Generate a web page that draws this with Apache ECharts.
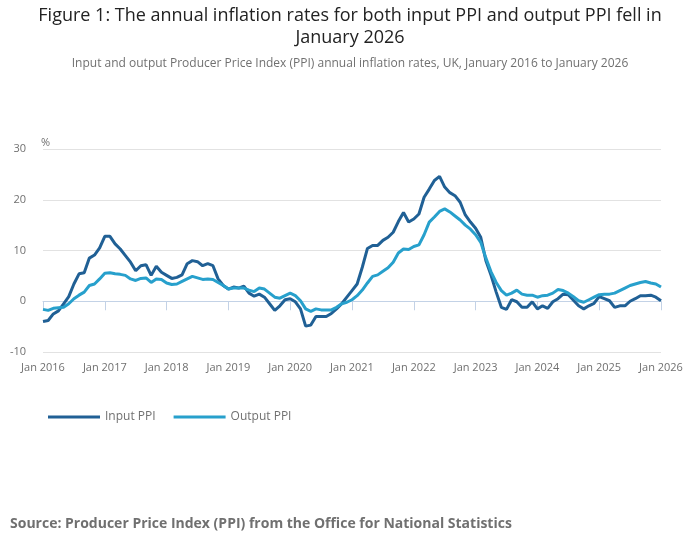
<!DOCTYPE html>
<html>
<head>
<meta charset="utf-8">
<script src="https://cdn.jsdelivr.net/npm/echarts@6/dist/echarts.min.js"></script>
<style>
  html, body { margin: 0; padding: 0; background: #fff; }
  #chart { width: 700px; height: 549px; }
</style>
</head>
<body>
<div id="chart"></div>
<script>
// PPI annual rates, Jan 2016 .. Jan 2026 (monthly)
var years = [2016, 2017, 2018, 2019, 2020, 2021, 2022, 2023, 2024, 2025, 2026];
var monthNames = ['Jan', 'Feb', 'Mar', 'Apr', 'May', 'Jun', 'Jul', 'Aug', 'Sep', 'Oct', 'Nov', 'Dec'];

var inputPPI = [
    -4.0, -3.8, -2.5, -1.9, -0.5, 0.9, 3.4, 5.4, 5.6, 8.5, 9.1, 10.5,
    12.8, 12.8, 11.3, 10.3, 9.0, 7.7, 6.0, 7.0, 7.2, 5.1, 6.9, 5.7,
    5.1, 4.5, 4.7, 5.2, 7.4, 8.0, 7.8, 7.0, 7.4, 7.0, 4.4, 3.1,
    2.4, 2.8, 2.6, 3.0, 1.6, 1.0, 1.4, 0.8, -0.5, -1.8, -0.9, 0.3,
    0.5, -0.1, -1.5, -4.9, -4.7, -3.0, -3.0, -3.0, -2.4, -1.5, -0.5, 0.8,
    2.1, 3.4, 6.7, 10.4, 11.0, 11.0, 12.0, 12.6, 13.6, 15.7, 17.5, 15.6,
    16.2, 17.2, 20.5, 22.1, 23.8, 24.6, 22.5, 21.4, 20.8, 19.5, 17.0, 15.6,
    14.4, 12.6, 8.0, 5.1, 1.8, -1.2, -1.6, 0.3, -0.1, -1.2, -1.2, -0.1,
    -1.5, -0.9, -1.4, -0.1, 0.5, 1.4, 1.3, 0.2, -0.9, -1.5, -0.9, -0.4,
    0.9, 0.5, 0.1, -1.2, -0.9, -0.9, 0.0, 0.5, 1.1, 1.1, 1.2, 0.8,
    0.1
];

var outputPPI = [
    -1.6, -1.8, -1.4, -1.3, -1.2, -0.5, 0.5, 1.2, 1.8, 3.1, 3.4, 4.4,
    5.5, 5.6, 5.4, 5.3, 5.1, 4.4, 4.1, 4.5, 4.6, 3.7, 4.4, 4.3,
    3.6, 3.3, 3.4, 3.9, 4.4, 4.9, 4.6, 4.3, 4.4, 4.3, 3.7, 3.1,
    2.4, 2.6, 2.6, 2.6, 2.2, 1.9, 2.6, 2.4, 1.6, 0.8, 0.6, 1.1,
    1.6, 1.1, 0.1, -1.5, -2.0, -1.5, -1.7, -1.7, -1.7, -1.2, -0.5, -0.2,
    0.3, 1.1, 2.2, 3.6, 4.9, 5.2, 5.9, 6.6, 7.7, 9.5, 10.3, 10.2,
    10.8, 11.1, 13.1, 15.6, 16.6, 17.7, 18.2, 17.6, 16.8, 16.0, 15.0, 14.2,
    13.1, 11.6, 8.5, 5.8, 3.7, 2.1, 1.2, 1.6, 2.2, 1.4, 1.2, 1.2,
    0.8, 1.1, 1.2, 1.6, 2.3, 2.1, 1.6, 0.9, 0.1, -0.2, 0.3, 0.8,
    1.3, 1.4, 1.4, 1.6, 2.1, 2.6, 3.1, 3.4, 3.7, 3.9, 3.6, 3.4,
    2.8
];

var yTicks = { min: -10, max: 30, step: 10 };

// month labels "Jan 2016" .. "Jan 2026"
var months = [];
years.forEach(function (y) {
    monthNames.forEach(function (m) {
        if (months.length < inputPPI.length) months.push(m + ' ' + y);
    });
});

var font = "'Open Sans', 'Noto Sans', sans-serif";
var isJan = function (i) { return i % 12 === 0; };

var chart = echarts.init(document.getElementById('chart'));
var option = {
    backgroundColor: '#fff',
    animation: false,
    textStyle: { fontFamily: font },
    title: [{
        text: 'Figure 1: The annual inflation rates for both input PPI and output PPI fell in\nJanuary 2026',
        left: 'center',
        top: 0,
        textStyle: { fontFamily: font, fontSize: 18, fontWeight: 'normal', color: '#222', lineHeight: 22 }
    }, {
        text: 'Input and output Producer Price Index (PPI) annual inflation rates, UK, January 2016 to January 2026',
        left: 'center',
        top: 53,
        textStyle: { fontFamily: font, fontSize: 12, fontWeight: 'normal', color: '#707070' }
    }, {
        text: 'Source: Producer Price Index (PPI) from the Office for National Statistics',
        left: 5,
        top: 512,
        textStyle: { fontFamily: font, fontSize: 14, fontWeight: 'bold', color: '#707070' }
    }],
    legend: {
        left: 43,
        top: 406,
        icon: 'rect',
        itemWidth: 52,
        itemHeight: 3,
        itemGap: 18,
        textStyle: { fontFamily: font, fontSize: 12, color: '#707070' },
        data: ['Input PPI', 'Output PPI']
    },
    grid: { left: 43, right: 39, top: 149, bottom: 197 },
    xAxis: {
        type: 'category',
        data: months,
        boundaryGap: false,
        axisLine: { lineStyle: { color: '#c3d2e6', width: 1 } },
        axisTick: { interval: isJan, length: 9, lineStyle: { color: '#c3d2e6' } },
        axisLabel: { interval: isJan, margin: 10, fontSize: 11, color: '#707070', fontFamily: font },
        splitLine: { show: false }
    },
    yAxis: {
        type: 'value',
        min: yTicks.min,
        max: yTicks.max,
        interval: yTicks.step,
        name: '%',
        nameLocation: 'end',
        nameGap: 1,
        nameTextStyle: { align: 'left', fontSize: 11, color: '#707070', fontFamily: font, padding: [0, 0, 0, -2] },
        axisLine: { show: false },
        axisTick: { show: false },
        axisLabel: { margin: 17, fontSize: 11, color: '#707070', fontFamily: font },
        splitLine: { lineStyle: { color: '#e2e2e2', width: 1 } }
    },
    series: [{
        name: 'Input PPI',
        type: 'line',
        data: inputPPI,
        showSymbol: false,
        color: '#206095',
        lineStyle: { width: 3, color: '#206095' }
    }, {
        name: 'Output PPI',
        type: 'line',
        data: outputPPI,
        showSymbol: false,
        color: '#27a0cc',
        lineStyle: { width: 3, color: '#27a0cc' }
    }]
};
chart.setOption(option);
</script>
</body>
</html>
